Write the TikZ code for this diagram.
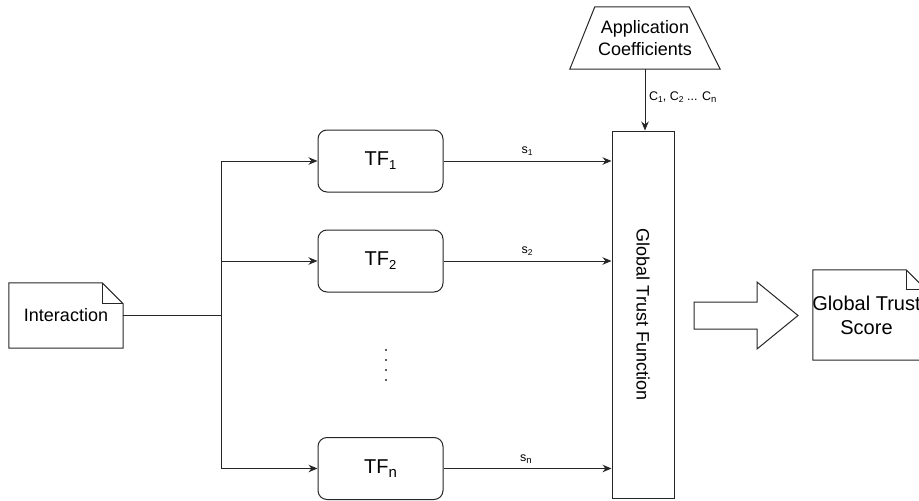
\documentclass[tikz,border=0pt]{standalone}
\usepackage{fontspec}
\setmainfont{Liberation Sans}
\usetikzlibrary{arrows.meta}
\newcommand\mysub[3]{\raisebox{#1}{\fontsize{#2}{#2}\selectfont #3}}
\begin{document}
\begin{tikzpicture}[x=1pt,y=-1pt,
  line/.style={line width=1pt, draw=black!85},
  >={Stealth[length=9pt,width=7.5pt]},
  lbl/.style={font=\fontsize{18}{21.6}\selectfont, align=center, inner sep=0pt},
  tfbox/.style={line, rounded corners=9pt, minimum width=125pt, minimum height=62pt, inner sep=0pt, font=\fontsize{20}{24}\selectfont},
  small/.style={font=\fontsize{12.5}{14}\selectfont, inner sep=0pt},
  ghost/.style={inner sep=0pt, align=center},
]
\useasboundingbox (0,0) rectangle (919,501);

% nodes
\node[ghost, lbl, minimum width=114pt, minimum height=65pt] (int) at (66,315.5) {Interaction};
\node[tfbox] (tf1) at (380.5,161) {TF\mysub{-4pt}{13}{1}};
\node[tfbox] (tf2) at (380.5,261) {TF\mysub{-4pt}{13}{2}};
\node[tfbox] (tfn) at (380.5,468.5) {TF\mysub{-4pt}{15}{n}};
\node[line, draw, minimum width=62pt, minimum height=367pt, inner sep=0pt] (gtf) at (643,314.5) {};
\node[lbl, rotate=-90] at (gtf.center) {Global Trust Function};
\node[ghost, lbl, minimum width=150pt, minimum height=62pt] (app) at (645,38) {Application\\Coefficients};
\node[ghost, minimum width=113pt, minimum height=90pt] (gts) at (869.5,315) {};
\node[ghost, font=\fontsize{20}{24}\selectfont] at ([xshift=-3pt]gts.center) {Global Trust\\Score};

% shapes
\draw[line] (app.south west) -- (app.south east) -- ([xshift=-31pt]app.north east)
  -- ([xshift=25pt]app.north west) -- cycle;
\draw[line] (int.south west) -- (int.north west) -- ([xshift=-21pt]int.north east)
  -- ([yshift=-21pt]int.north east) -- (int.south east) -- cycle;
\draw[line] ([xshift=-21pt]int.north east) -- ([xshift=-21pt,yshift=-21pt]int.north east)
  -- ([yshift=-21pt]int.north east);
\draw[line] (gts.south west) -- (gts.north west) -- ([xshift=-20pt]gts.north east)
  -- ([yshift=-20pt]gts.north east) -- (gts.south east) -- cycle;
\draw[line] ([xshift=-20pt]gts.north east) -- ([xshift=-20pt,yshift=-20pt]gts.north east)
  -- ([yshift=-20pt]gts.north east);
\draw[line] (694,302) -- (757,302) -- (757,282) -- (798,315.5) -- (757,349) -- (757,329) -- (694,329) -- cycle;

% dots
\foreach \yy in {350,360,370,380} \fill[black!85] (386,\yy) circle (1.1pt);

% connectors
\coordinate (bus) at (221,315.5);
\draw[line] (int.east) -- (bus);
\draw[line] (bus |- tf1.west) -- (bus |- tfn.west);
\draw[line,->] (bus |- tf1.west) -- (tf1.west);
\draw[line,->] (bus |- tf2.west) -- (tf2.west);
\draw[line,->] (bus |- tfn.west) -- (tfn.west);
\draw[line,->] (tf1.east) -- (tf1.east -| gtf.west);
\draw[line,->] (tf2.east) -- (tf2.east -| gtf.west);
\draw[line,->] (tfn.east) -- (tfn.east -| gtf.west);
\draw[line,->] (app.south) -- (app.south |- gtf.north);

% labels
\node[small] at (527,151) {s\mysub{-2pt}{8.5}{1}};
\node[small] at (527,251) {s\mysub{-2pt}{8.5}{2}};
\node[small] at (526,459) {s\mysub{-2pt}{9.5}{n}};
\node[small, anchor=west] at (649,97) {C\mysub{-2pt}{8.5}{1}, C\mysub{-2pt}{8.5}{2} ... C\mysub{-2pt}{9.5}{n}};
\end{tikzpicture}
\end{document}
